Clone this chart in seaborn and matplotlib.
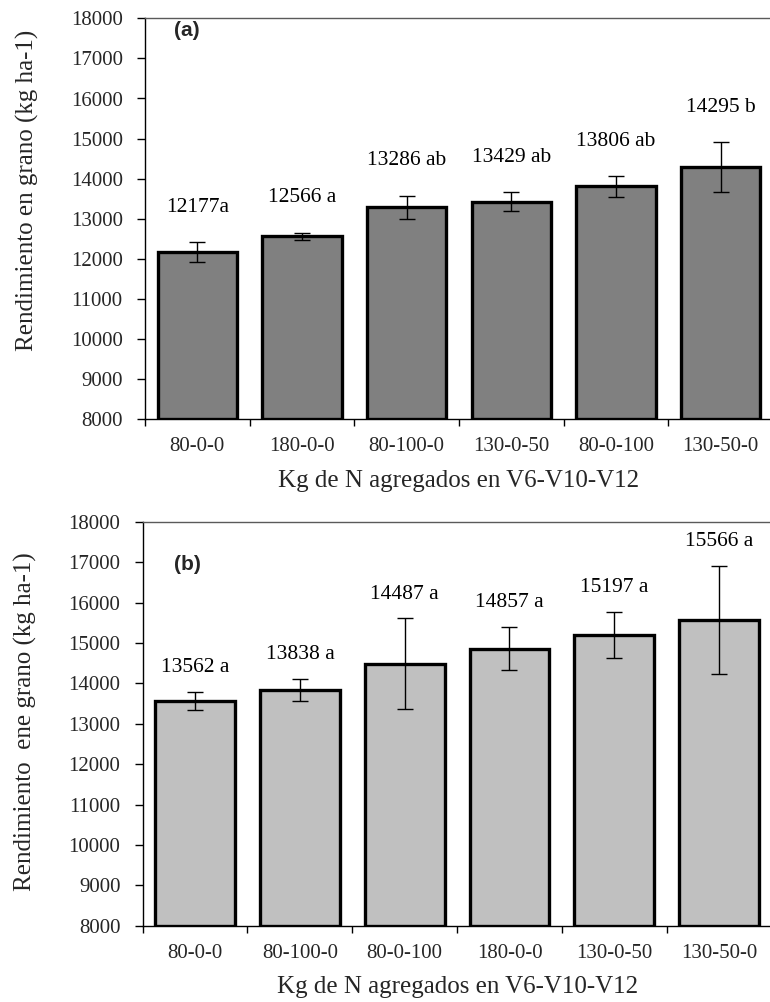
import numpy as np
import pandas as pd
import matplotlib
matplotlib.use("Agg")
import matplotlib.pyplot as plt
import seaborn as sns

# ---------------- data ----------------
cats_a = ["80-0-0", "180-0-0", "80-100-0", "130-0-50", "80-0-100", "130-50-0"]
vals_a = [12177, 12566, 13286, 13429, 13806, 14295]
err_a = [250, 90, 290, 245, 260, 615]
labels_a = ["12177a", "12566 a", "13286 ab", "13429 ab", "13806 ab", "14295 b"]

cats_b = ["80-0-0", "80-100-0", "80-0-100", "180-0-0", "130-0-50", "130-50-0"]
vals_b = [13562, 13838, 14487, 14857, 15197, 15566]
err_b = [230, 275, 1120, 537, 570, 1335]
labels_b = ["13562 a", "13838 a", "14487 a", "14857 a", "15197 a", "15566 a"]

yticks = list(range(8000, 18001, 1000))
xlabel = "Kg de N agregados en V6-V10-V12"
ylabel_a = "Rendimiento en grano (kg ha-1)"
ylabel_b = "Rendimiento  ene grano (kg ha-1)"

# ---------------- style ----------------
sns.set_theme(style="white")
plt.rcParams["font.family"] = ["Liberation Serif", "DejaVu Serif"]
plt.rcParams["axes.linewidth"] = 1.0

W, H = 770, 1002
fig = plt.figure(figsize=(W / 100, H / 100), dpi=100)


def panel(rect, cats, vals, errs, labels, color, ylabel, tag, tag_xy, lab_off):
    ax = fig.add_axes(rect)
    df = pd.DataFrame({"cat": cats, "val": vals})
    sns.barplot(data=df, x="cat", y="val", order=cats, color=color, saturation=1,
                width=0.76, edgecolor="black", linewidth=2.4, errorbar=None, ax=ax)
    ymin, ymax = yticks[0], yticks[-1]
    # bars start at the axis floor so their bottom edge is visible
    for p in ax.patches:
        top = p.get_y() + p.get_height()
        p.set_y(ymin)
        p.set_height(top - ymin)
    xs = np.arange(len(cats))
    ax.errorbar(xs, vals, yerr=errs, fmt="none", ecolor="black", elinewidth=1.0,
                capsize=5.5, capthick=1.0, zorder=3)
    for x, v, e, l in zip(xs, vals, errs, labels):
        ax.annotate(l, (x, v + e), xytext=(0, lab_off), textcoords="offset points",
                    ha="center", va="center", fontsize=15.5, color="black")
    ax.set_ylim(ymin, ymax)
    ax.set_xlim(-0.5, len(cats) - 0.5)
    ax.set_yticks(yticks)
    ax.set_yticklabels([str(t) for t in yticks], fontsize=15)
    ax.set_xticks(np.arange(-0.5, len(cats)), labels=[""] * (len(cats) + 1))
    ax.set_xticks(xs, labels=cats, minor=True)
    for t in ax.get_xticklabels(minor=True):
        t.set_fontsize(15)
    ax.tick_params(axis="x", which="major", length=5, width=1, direction="out",
                   color="black", bottom=True)
    ax.tick_params(axis="x", which="minor", length=0, pad=13, bottom=True)
    ax.tick_params(axis="y", which="major", length=6, width=1, direction="out",
                   color="black", pad=10, left=True)
    ax.set_xlabel(xlabel, fontsize=18, va="center")
    ax.set_ylabel(ylabel, fontsize=18, va="center")
    ax.grid(False)
    for s in ["left", "bottom"]:
        ax.spines[s].set_color("black")
        ax.spines[s].set_linewidth(1.0)
    ax.spines["top"].set_color("#5a5a5a")
    ax.spines["top"].set_linewidth(1.0)
    ax.spines["right"].set_visible(False)
    ax.text(tag_xy[0], tag_xy[1], tag, transform=ax.transAxes, ha="center", va="center",
            fontsize=15, fontweight="bold", family=["Liberation Sans", "DejaVu Sans"])
    return ax


# panel (a)
la, ta, ba = 145, 18.3, 419.3
ra = 773
ax_a = panel([la / W, 1 - ba / H, (ra - la) / W, (ba - ta) / H],
             cats_a, vals_a, err_a, labels_a, "#808080", ylabel_a, "(a)",
             ((187 - la) / (ra - la), (ba - 31) / (ba - ta)), 25)
ax_a.yaxis.set_label_coords((27 - la) / (ra - la), 0.572)
ax_a.xaxis.set_label_coords(0.5, -62 / (ba - ta))

# panel (b)
lb, tb, bb = 142.7, 521.7, 925.7
rb = 771.5
ax_b = panel([lb / W, 1 - bb / H, (rb - lb) / W, (bb - tb) / H],
             cats_b, vals_b, err_b, labels_b, "#C0C0C0", ylabel_b, "(b)",
             ((187 - lb) / (rb - lb), (bb - 565) / (bb - tb)), 17.5)
ax_b.yaxis.set_label_coords((25 - lb) / (rb - lb), 0.505)
ax_b.xaxis.set_label_coords(0.5, -61 / (bb - tb))

fig.savefig("out.png", dpi=100)
